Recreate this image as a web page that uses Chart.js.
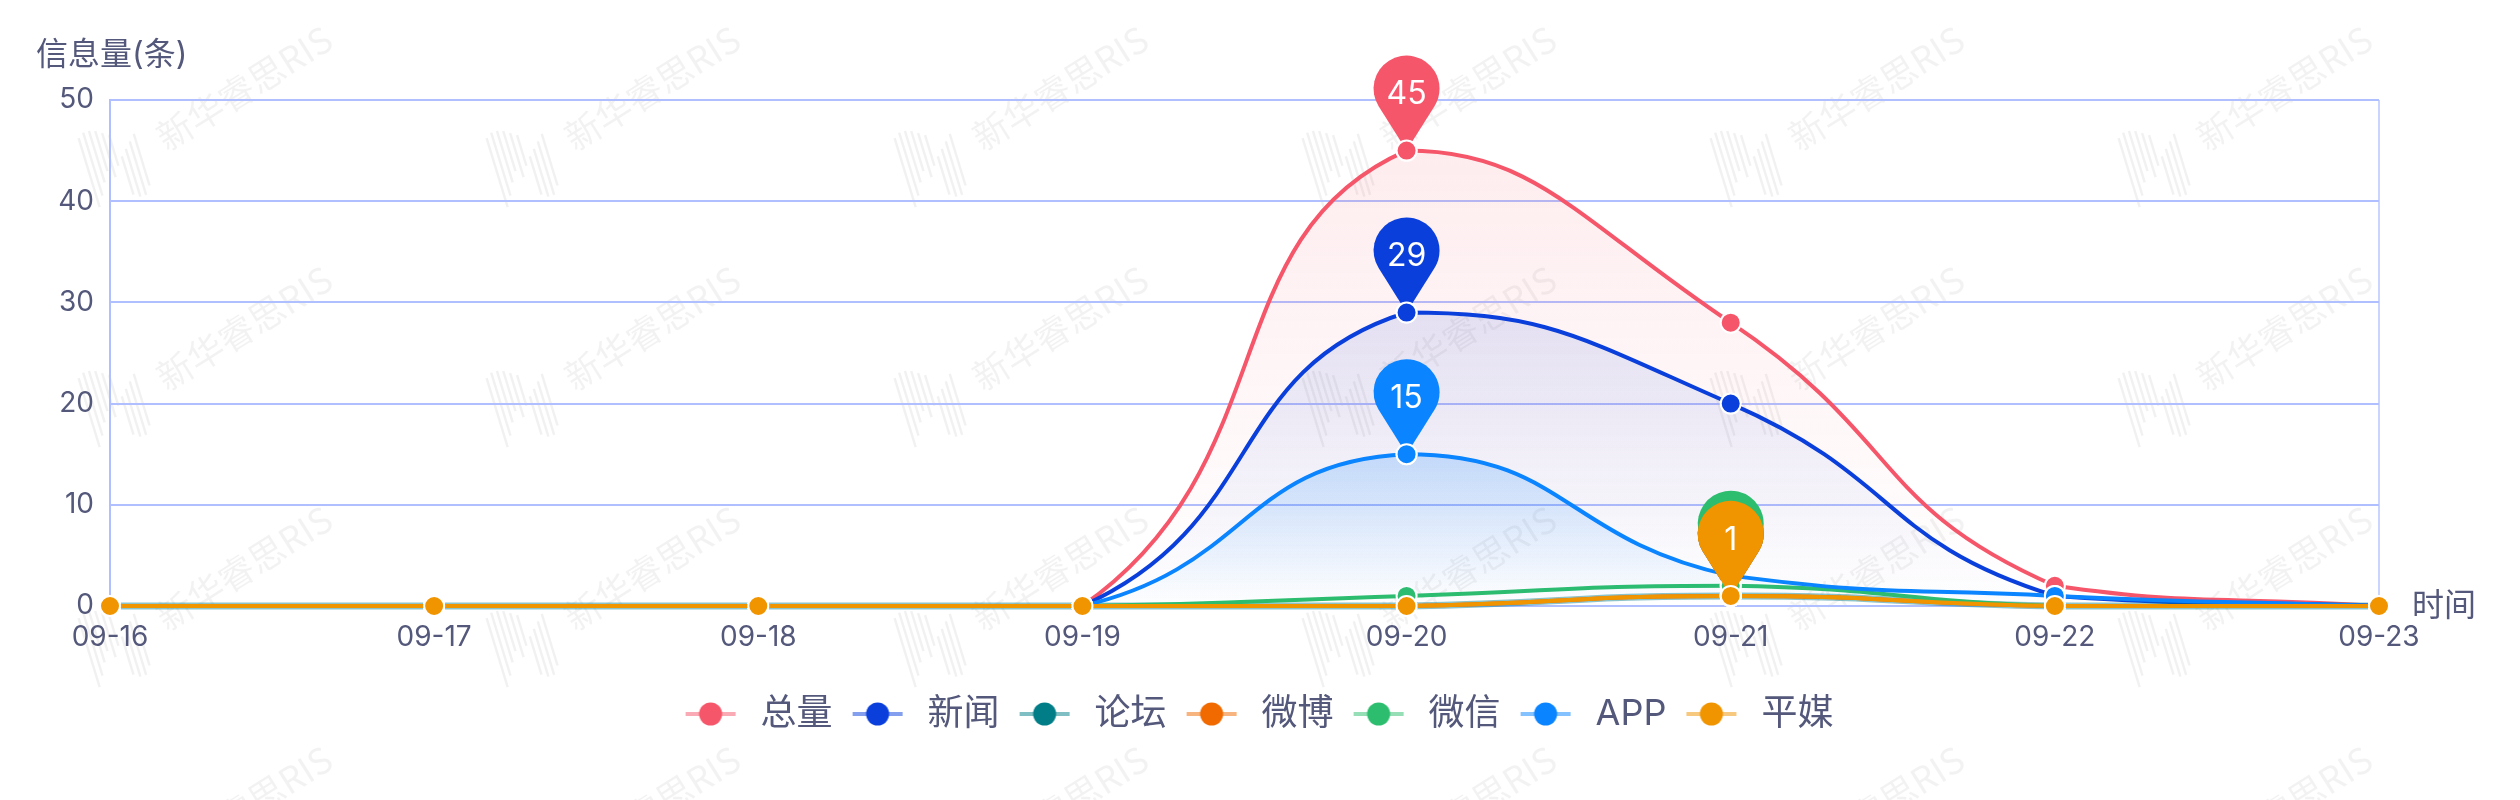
<!DOCTYPE html>
<html>
<head>
<meta charset="utf-8">
<title>信息量</title>
<style>
  html, body { margin: 0; padding: 0; background: #fff; }
  #chart { display: block; }
</style>
<script src="https://cdn.jsdelivr.net/npm/chart.js@4/dist/chart.umd.min.js"></script>
</head>
<body>
<canvas id="chart" width="2520" height="800"></canvas>
<script>
const categories = ['09-16', '09-17', '09-18', '09-19', '09-20', '09-21', '09-22', '09-23'];
const seriesNames = ['总量', '新闻', '论坛', '微博', '微信', 'APP', '平媒'];
const seriesColors = ['#f5566a', '#0a3fdb', '#007d87', '#f06a00', '#2dbd6e', '#0a84ff', '#f09400'];

const totalValues  = [0, 0, 0, 0, 45, 28, 2, 0];
const newsValues   = [0, 0, 0, 0, 29, 20, 1, 0];
const forumValues  = [0, 0, 0, 0, 0, 1, 0, 0];
const weiboValues  = [0, 0, 0, 0, 0, 1, 0, 0];
const wechatValues = [0, 0, 0, 0, 1, 2, 0, 0];
const appValues    = [0, 0, 0, 0, 15, 3, 1, 0];
const printValues  = [0, 0, 0, 0, 0, 1, 0, 0];
const allValues = [totalValues, newsValues, forumValues, weiboValues, wechatValues, appValues, printValues];

const yTicks = [0, 10, 20, 30, 40, 50];
const yTitle = '信息量(条)';
const xTitle = '时间';
const watermarkText = '新华睿思RIS';

const FONT = 'Inter, "Noto Sans CJK SC", sans-serif';
const TEXT_COLOR = '#54587a';
const GRID_COLOR = '#b0bfff';

function hexToRgba(hex, a) {
    const n = parseInt(hex.slice(1), 16);
    return `rgba(${n >> 16},${(n >> 8) & 255},${n & 255},${a})`;
}

// relleno degradado desde el maximo de la serie hasta el cero
const fillAlphas = [0.11, 0.11, 0, 0, 0, 0.2, 0];
function areaFill(ctx) {
    const i = ctx.datasetIndex;
    const chart = ctx.chart;
    if (!chart.chartArea || !fillAlphas[i]) return 'rgba(0,0,0,0)';
    const y = chart.scales.y;
    const g = chart.ctx.createLinearGradient(0, y.getPixelForValue(Math.max(...allValues[i])), 0, y.getPixelForValue(0));
    g.addColorStop(0, hexToRgba(seriesColors[i], fillAlphas[i]));
    g.addColorStop(1, hexToRgba(seriesColors[i], 0));
    return g;
}

// simbolo de la leyenda: linea palida con punto
function legendSymbol(color) {
    const c = document.createElement('canvas');
    c.width = 64;
    c.height = 30;
    const x = c.getContext('2d');
    x.fillStyle = hexToRgba(color, 0.5);
    x.fillRect(7, 13, 50, 4);
    x.fillStyle = color;
    x.beginPath();
    x.arc(32, 15, 11.5, 0, Math.PI * 2);
    x.fill();
    return c;
}

// marca de agua de fondo
const watermarkPlugin = {
    id: 'watermark',
    beforeDraw(chart) {
        const ctx = chart.ctx;
        ctx.save();
        for (let row = 0; row < 4; row++) {
            for (let col = 0; col < 7; col++) {
                const ox = col * 408, oy = row * 240;
                ctx.save();
                ctx.translate(244 + ox, 88 + oy);
                ctx.rotate(-32 * Math.PI / 180);
                ctx.font = '36px "Noto Sans CJK SC", sans-serif';
                ctx.fillStyle = 'rgba(0,0,0,0.05)';
                ctx.textAlign = 'center';
                ctx.textBaseline = 'middle';
                ctx.fillText(watermarkText, 0, 0);
                ctx.restore();

                ctx.save();
                ctx.translate(114 + ox, 165 + oy);
                ctx.rotate(-17 * Math.PI / 180);
                ctx.strokeStyle = 'rgba(0,0,0,0.055)';
                ctx.lineWidth = 2.5;
                ctx.beginPath();
                [[-26, -36, 36], [-20, -40, 26], [-14, -40, 14], [-8, -38, 4], [-2, -34, 12], [4, -30, 2], [10, -6, 34], [16, -12, 38], [22, -18, 38], [28, -24, 30]].forEach(s => {
                    ctx.moveTo(s[0], s[1]);
                    ctx.lineTo(s[0], s[2]);
                });
                ctx.stroke();
                ctx.restore();
            }
        }
        ctx.restore();
    }
};

// los puntos de control no deben pasar de los valores vecinos
const clampCurvePlugin = {
    id: 'clampCurve',
    beforeDatasetsDraw(chart) {
        chart.getSortedVisibleDatasetMetas().forEach(meta => {
            meta.dataset.updateControlPoints(chart.chartArea);
            const pts = meta.data;
            pts.forEach((p, i) => {
                const prev = pts[i - 1], next = pts[i + 1];
                if (prev) p.cp1y = Math.min(Math.max(p.cp1y, Math.min(prev.y, p.y)), Math.max(prev.y, p.y));
                if (next) p.cp2y = Math.min(Math.max(p.cp2y, Math.min(next.y, p.y)), Math.max(next.y, p.y));
            });
        });
    }
};

// pines con el maximo de cada serie y titulos de los ejes
const pinsPlugin = {
    id: 'pins',
    afterDatasetsDraw(chart) {
        const ctx = chart.ctx;
        allValues.forEach((vals, i) => {
            const max = Math.max(...vals);
            if (max <= 0) return;
            const pt = chart.getDatasetMeta(i).data[vals.indexOf(max)];
            const r = 33, d = 62;
            const cy = pt.y - d;
            const a = Math.acos(r / d);
            ctx.save();
            ctx.fillStyle = seriesColors[i];
            ctx.beginPath();
            ctx.arc(pt.x, cy, r, Math.PI / 2 + a, Math.PI / 2 - a);
            ctx.lineTo(pt.x, pt.y);
            ctx.closePath();
            ctx.fill();
            ctx.fillStyle = '#fff';
            ctx.font = '32px ' + FONT;
            ctx.textAlign = 'center';
            ctx.textBaseline = 'middle';
            ctx.fillText(String(max), pt.x, cy + 6);
            ctx.restore();
            pt.draw(ctx, chart.chartArea);
        });
    },
    afterDraw(chart) {
        const ctx = chart.ctx;
        ctx.save();
        ctx.fillStyle = TEXT_COLOR;
        ctx.font = '32px ' + FONT;
        ctx.textBaseline = 'middle';
        ctx.fillText(yTitle, 36, 55);
        ctx.fillText(xTitle, 2412, 606);
        ctx.restore();
    }
};

document.addEventListener('DOMContentLoaded', () => {
    const datasets = seriesNames.map((name, i) => ({
        label: name,
        data: allValues[i],
        order: seriesNames.length - i,
        borderColor: name === '论坛' ? hexToRgba(seriesColors[i], 0.45) : seriesColors[i],
        borderWidth: name === '论坛' ? 7 : 4,
        backgroundColor: areaFill,
        fill: fillAlphas[i] ? 'origin' : false,
        tension: 0.5,
        pointRadius: 10,
        pointBorderWidth: 2,
        pointBorderColor: '#fff',
        pointBackgroundColor: seriesColors[i],
        clip: false
    }));

    new Chart(document.getElementById('chart'), {
        type: 'line',
        data: { labels: categories, datasets },
        plugins: [watermarkPlugin, clampCurvePlugin, pinsPlugin],
        options: {
            responsive: false,
            devicePixelRatio: 1,
            animation: false,
            layout: { padding: { top: 100, right: 8, bottom: 58, left: 0 } },
            plugins: {
                tooltip: { enabled: false },
                legend: {
                    position: 'bottom',
                    onClick: null,
                    labels: {
                        usePointStyle: true,
                        pointStyleWidth: 64,
                        padding: 13,
                        color: TEXT_COLOR,
                        font: { family: FONT, size: 36 },
                        generateLabels: () => seriesNames.map((name, i) => ({
                            text: name,
                            fontColor: TEXT_COLOR,
                            pointStyle: legendSymbol(seriesColors[i]),
                            lineWidth: 0,
                            datasetIndex: i
                        }))
                    }
                }
            },
            scales: {
                x: {
                    afterFit(axis) { axis.height = 77; axis.paddingRight = 141; },
                    border: { color: GRID_COLOR, width: 2 },
                    grid: {
                        drawTicks: false,
                        lineWidth: 2,
                        color: c => c.index === categories.length - 1 ? '#c9d5ff' : 'rgba(0,0,0,0)'
                    },
                    ticks: {
                        padding: 15,
                        maxRotation: 0,
                        autoSkip: false,
                        color: TEXT_COLOR,
                        font: { family: FONT, size: 28 }
                    }
                },
                y: {
                    min: 0,
                    max: 50,
                    afterFit(axis) { axis.width = 110; },
                    afterBuildTicks(axis) { axis.ticks = yTicks.map(v => ({ value: v })); },
                    border: { color: GRID_COLOR, width: 2 },
                    grid: { drawTicks: false, lineWidth: 2, color: GRID_COLOR },
                    ticks: {
                        padding: 16,
                        color: TEXT_COLOR,
                        font: { family: FONT, size: 28 }
                    }
                }
            }
        }
    });
});
</script>
</body>
</html>
